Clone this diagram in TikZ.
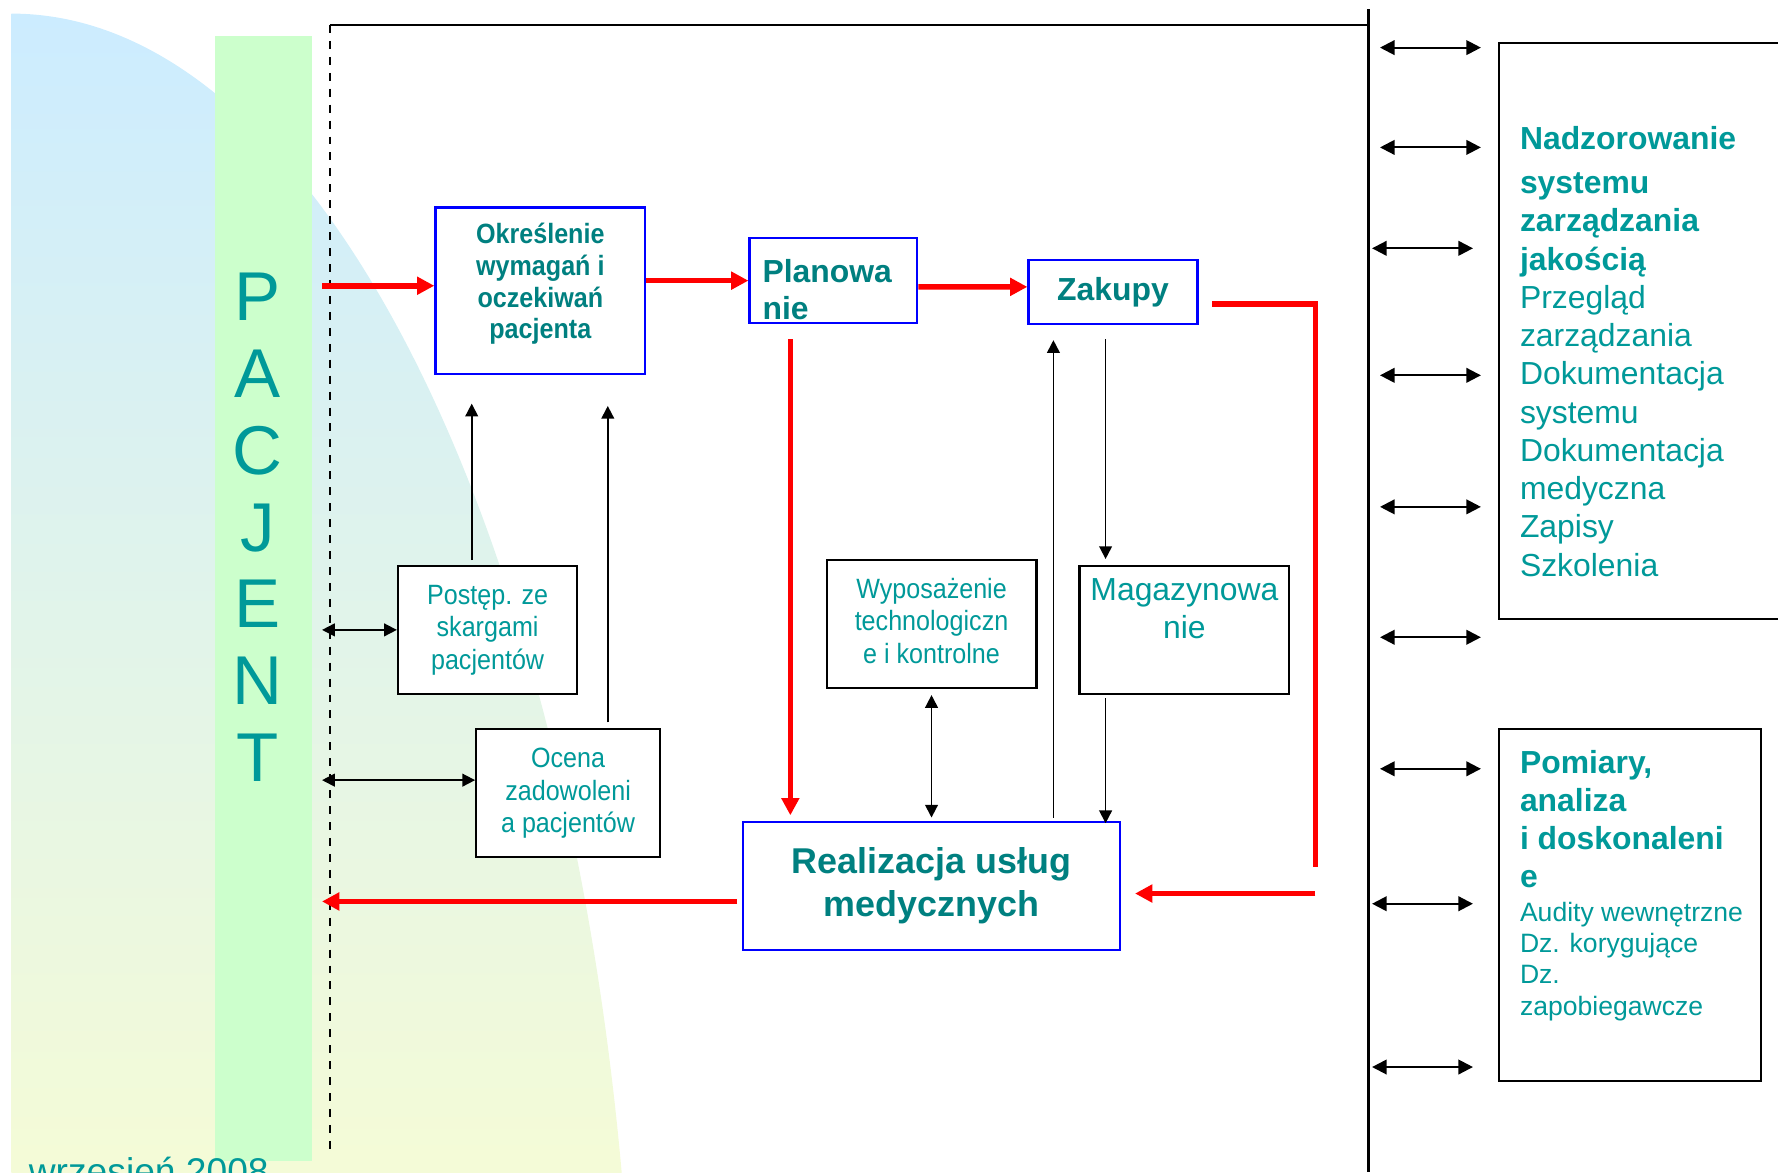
\documentclass[tikz,border=0pt]{standalone}
\usepackage{fontspec}
\setmainfont{Liberation Sans}
\newfontfamily\narrowfont{Liberation Sans}[FakeStretch=0.9]
\usetikzlibrary{arrows.meta,positioning,calc}
\definecolor{tealtxt}{RGB}{0,153,153}
\definecolor{darkteal}{RGB}{0,128,128}
\definecolor{boxblue}{RGB}{0,0,255}
\definecolor{arrred}{RGB}{255,0,0}
\definecolor{bgblue}{RGB}{204,236,255}
\definecolor{bgyellow}{RGB}{255,255,204}
\definecolor{bargreen}{RGB}{204,255,204}

\begin{document}
\begin{tikzpicture}[x=0.015cm,y=-0.015cm,>={Triangle[length=4.8pt,width=4.8pt]},
  bluebox/.style={draw=boxblue,fill=white,line width=0.85pt,inner sep=0pt,text=darkteal,align=center},
  blackbox/.style={draw,fill=white,line width=0.85pt,inner sep=0pt,text=tealtxt,align=center,font=\narrowfont\fontsize{10.5}{12.2}\selectfont},
  sidetext/.style={anchor=north west,inner sep=0pt,align=left,text=tealtxt},
  redarrow/.style={arrred,line width=2.1pt,-{Triangle[length=6.5pt,width=6.5pt]}},
  redline/.style={arrred,line width=2.1pt},
  blackline/.style={line width=0.65pt},
  sidearrow/.style={line width=0.8pt,{Triangle[length=5.5pt,width=5.5pt]}-{Triangle[length=5.5pt,width=5.5pt]}}]
\useasboundingbox (0,0) rectangle (1568,1034);
\clip (0,0) rectangle (1568,1034);
\shade[top color=bgblue,bottom color=bgyellow] (10,1300) -- (10,12) arc[start angle=-90,end angle=0,x radius=550,y radius=1288] -- cycle;
\node[fill=bargreen,minimum width=1.275cm,minimum height=14.88cm,inner sep=0pt] (bar) at (232.5,528) {};
\node[text=tealtxt,align=center,inner sep=0pt,font=\fontsize{26}{28.9}\selectfont] (pacjent) at (227,465) {P\\A\\C\\J\\E\\N\\T};
\node[anchor=base west,inner sep=0pt,text=tealtxt,font=\fontsize{14}{16}\selectfont] (data) at (25,1045) {wrzesień 2008};
\draw[dash pattern=on 3pt off 3pt,line width=0.7pt] (291,22) -- (291,1018);
\draw[line width=0.9pt] (291,22) -- (1207,22);
\draw[line width=0.9pt] (1207,8) -- (1207,1034);
\coordinate (pl) at (284,0);
\coordinate (rt) at (1160,0);
\coordinate (vline) at (1207,0);

\node[bluebox,minimum width=2.775cm,minimum height=2.205cm] (okr) at (476.5,256.5) {};
\node[text=darkteal,align=center,inner sep=0pt,font=\narrowfont\bfseries\fontsize{10.5}{11.9}\selectfont] (okrtxt) at ($(okr)+(0,-6)$) {Określenie\\wymagań i\\oczekiwań\\pacjenta};
\node[bluebox,minimum width=2.22cm,minimum height=1.125cm] (plan) at (735,247.5) {};
\node[text=darkteal,anchor=north west,inner sep=0pt,align=left,font=\bfseries\fontsize{12}{14.1}\selectfont] (plantxt) at ($(plan.north west)+(12,19)$) {Planowa\\nie};
\node[bluebox,minimum width=2.235cm,minimum height=0.855cm,font=\bfseries\fontsize{12}{14.1}\selectfont] (zak) at (981.5,257.5) {Zakupy};
\node[blackbox,minimum width=2.37cm,minimum height=1.695cm] (post) at (430,555.5) {Postęp. ze\\skargami\\pacjentów};
\node[blackbox,minimum width=2.43cm,minimum height=1.695cm] (ocena) at (501,699.5) {Ocena\\zadowoleni\\a pacjentów};
\node[blackbox,minimum width=2.775cm,minimum height=1.695cm] (wyp) at (821.5,550.5) {};
\node[text=tealtxt,align=center,inner sep=0pt,font=\narrowfont\fontsize{10.5}{12.2}\selectfont] (wyptxt) at ($(wyp)+(0,-3)$) {Wyposażenie\\technologiczn\\e i kontrolne};
\node[blackbox,minimum width=2.775cm,minimum height=1.695cm] (mag) at (1044.5,555.5) {};
\node[text=tealtxt,align=center,inner sep=0pt,anchor=north,font=\fontsize{12}{14.1}\selectfont] (magtxt) at ($(mag.north)+(0,12)$) {Magazynowa\\nie};
\node[bluebox,minimum width=4.995cm,minimum height=1.695cm,font=\bfseries\fontsize{13.5}{16.2}\selectfont] (real) at (821.5,781.5) {Realizacja usług\\medycznych};
\node[blackbox,minimum width=3.87cm,minimum height=7.62cm] (nadz) at (1451,292) {};
\node[blackbox,minimum width=3.465cm,minimum height=4.65cm] (pom) at (1437.5,798) {};
\node[sidetext,font=\fontsize{12}{14.4}\selectfont] (nadztxt) at (1340,111) {\textbf{Nadzorowanie}\\[2.2pt]\textbf{systemu}\\\textbf{zarządzania}\\\textbf{jakością}\\Przegląd\\zarządzania\\Dokumentacja\\systemu\\Dokumentacja\\medyczna\\Zapisy\\Szkolenia};
\node[sidetext,font=\bfseries\fontsize{12}{14.4}\selectfont] (pomhead) at (1340,661) {Pomiary,\\analiza\\i doskonaleni\\e};
\node[sidetext,font=\fontsize{10}{11.8}\selectfont] (pombody) at (1340,795) {Audity wewnętrzne\\Dz. korygujące\\Dz.\\zapobiegawcze};

\draw[redarrow] ($(okr.west -| pl)+(0,-4.5)$) -- ($(okr.west)+(0,-4.5)$);
\draw[redarrow] (okr.east |- plan.west) -- (plan.west);
\draw[redarrow] ($(plan.east)+(0,5.5)$) -- ($(zak.west)+(0,-4.5)$);
\draw[redline] ($(zak.east)+(12,10.5)$) -- ($(zak.east -| rt)+(0,10.5)$) -- ($(real.east -| rt)+(0,-16.5)$);
\draw[redarrow] ($(real.east -| rt)+(0,6.5)$) -- ($(real.east)+(12,6.5)$);
\draw[redarrow] ($(plan.south)+(-38,13)$) -- ($(real.north -| plan.south)+(-38,-5)$);
\draw[redarrow] ($(real.west)+(-4,13.5)$) -- ($(real.west -| pl)+(0,13.5)$);

\draw[blackline,->] ($(post.north)+(-14,-4)$) -- ($(okr.south -| post.north)+(-14,25)$);
\draw[blackline,->] ($(ocena.north)+(35,-5)$) -- ($(okr.south -| ocena.north)+(35,27)$);
\draw[blackline,->] ($(real.north)+(107.5,-3)$) -- ($(zak.south -| real.north)+(107.5,13)$);
\draw[blackline,->] ($(zak.south)+(-6.5,12)$) -- ($(mag.north -| zak.south)+(-6.5,-5)$);
\draw[blackline,->] ($(mag.south)+(-69.5,3)$) -- ($(real.north -| mag.south)+(-69.5,2)$);
\draw[blackline,<->] ($(wyp.south)+(0,5)$) -- ($(real.north)+(0,-3)$);
\draw[blackline,<->] (post.west -| pl) -- (post.west);
\draw[blackline,<->] ($(ocena.west -| pl)+(0,-11.5)$) -- ($(ocena.west)+(0,-11.5)$);
\foreach \y/\s in {42/10,130/10,219/3,331/10,447/10,562/10,678/10,797/3,941/3}
  \draw[sidearrow] ($(vline)+(\s,\y)$) -- ($(vline)+(\s+89,\y)$);
\end{tikzpicture}
\end{document}
